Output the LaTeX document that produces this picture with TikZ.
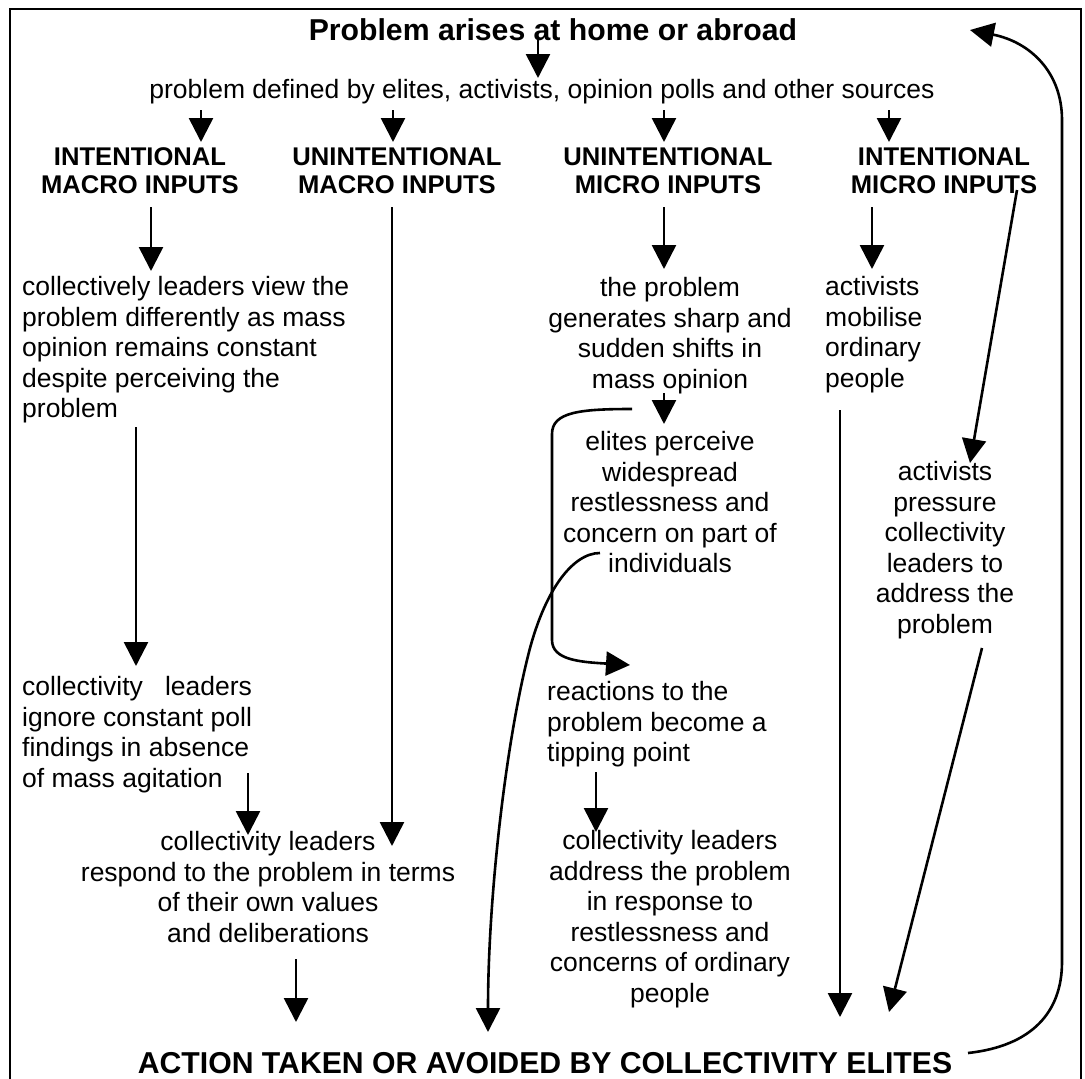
\documentclass[tikz,border=0pt]{standalone}
\usepackage{fontspec}
\setmainfont{Liberation Sans}
\usetikzlibrary{arrows.meta}
\begin{document}
\begin{tikzpicture}[x=1pt,y=-1pt,
  arr/.style={line width=2.6pt,-{Triangle[length=24pt,width=24pt]}},
  body/.style={inner sep=0pt,font=\fontsize{26.5}{30.6}\selectfont},
  head/.style={inner sep=0pt,align=center,anchor=north,font=\bfseries\fontsize{25.6}{28}\selectfont},
  banner/.style={inner sep=0pt,font=\bfseries\fontsize{30.2}{34}\selectfont}]
\useasboundingbox (0,0) rectangle (1085,1079);
% outer frame (its lower edge runs off the page)
\begin{scope}
  \clip (0,0) rectangle (1085,1079);
  \draw[line width=2pt] (10,9) rectangle (1081,1100);
\end{scope}

% top of the chart
\node[banner] (title) at (553,30) {Problem arises at home or abroad};
\node[body] (defined) at (542,92) {problem defined by elites, activists, opinion polls and other sources};

% the four kinds of input
\node[head] (h1) at (140,147) {INTENTIONAL\\MACRO INPUTS};
\node[head] (h2) at (397,147) {UNINTENTIONAL\\MACRO INPUTS};
\node[head] (h3) at (668,147) {UNINTENTIONAL\\MICRO INPUTS};
\node[head] (h4) at (944,147) {INTENTIONAL\\MICRO INPUTS};

% intentional macro column
\node[body,align=left,anchor=north west] (view) at (22,276)
  {collectively leaders view the\\problem differently as mass\\opinion remains constant\\despite perceiving the\\problem};
\node[body,align=left,anchor=north west] (ignore) at (22,676)
  {\makebox[229.8pt][s]{collectivity leaders}\\ignore constant poll\\findings in absence\\of mass agitation};
\node[body,align=center,anchor=north] (respond) at (268,831)
  {collectivity leaders\\respond to the problem in terms\\of their own values\\and deliberations};

% unintentional micro column
\node[body,align=center,anchor=north] (shifts) at (670,277)
  {the problem\\generates sharp and\\sudden shifts in\\mass opinion};
\node[body,align=center,anchor=north] (perceive) at (670,431)
  {elites perceive\\widespread\\restlessness and\\concern on part of\\individuals};
\node[body,align=left,anchor=north west] (tipping) at (547,681)
  {reactions to the\\problem become a\\tipping point};
\node[body,align=center,anchor=north] (address) at (670,830)
  {collectivity leaders\\address the problem\\in response to\\restlessness and\\concerns of ordinary\\people};

% intentional micro column
\node[body,align=left,anchor=north west] (mobilise) at (825,276)
  {activists\\mobilise\\ordinary\\people};
\node[body,align=center,anchor=north] (pressure) at (945,461)
  {activists\\pressure\\collectivity\\leaders to\\address the\\problem};

% outcome
\node[banner] (action) at (545,1063) {ACTION TAKEN OR AVOIDED BY COLLECTIVITY ELITES};

% connector end points
\coordinate (t0) at (538,38);   \coordinate (d0) at (538,78);
\coordinate (t1) at (201,110);  \coordinate (d1) at (201,142);
\coordinate (t2) at (393,110);  \coordinate (d2) at (393,142);
\coordinate (t3) at (664,110);  \coordinate (d3) at (664,142);
\coordinate (t4) at (889,110);  \coordinate (d4) at (889,142);
\coordinate (u1) at (151,207);  \coordinate (v1) at (151,271);
\coordinate (u2) at (392,207);  \coordinate (v2) at (392,846);
\coordinate (u3) at (664,207);  \coordinate (v3) at (664,269);
\coordinate (u4) at (872,207);  \coordinate (v4) at (872,269);
\coordinate (u5) at (1017,190); \coordinate (v5) at (970,463);
\coordinate (p1) at (136,427);  \coordinate (q1) at (136,666);
\coordinate (p2) at (248,773);  \coordinate (q2) at (248,835);
\coordinate (p3) at (664,393);  \coordinate (q3) at (664,424);
\coordinate (p4) at (596,772);  \coordinate (q4) at (596,832);
\coordinate (r1) at (296,959);  \coordinate (s1) at (296,1022);
\coordinate (r2) at (600,553);  \coordinate (s2) at (488,1032);
\coordinate (r3) at (840,410);  \coordinate (s3) at (840,1017);
\coordinate (r4) at (982,648);  \coordinate (s4) at (889,1012);
\coordinate (b0) at (632,409);  \coordinate (b1) at (630,665);
\coordinate (f0) at (968,1053); \coordinate (f1) at (970,30);

% straight arrows
\foreach \a/\b in {t0/d0,t1/d1,t2/d2,t3/d3,t4/d4,u1/v1,u2/v2,u3/v3,u4/v4,u5/v5,
                   p1/q1,p2/q2,p3/q3,p4/q4,r1/s1,r3/s3,r4/s4}
  \draw[arr] (\a) -- (\b);

% bracket from mass opinion shifts round to the tipping point
\draw[arr] (b0) .. controls (580,409) and (552,412) .. (552,434)
  -- (552,640) .. controls (552,660) and (580,662) .. (b1);

% curve from perceived restlessness down to the outcome
\draw[arr] (r2) .. controls (572,553) and (543,592) .. (527,660)
  .. controls (505,750) and (488,900) .. (s2);

% feedback loop back to the start
\draw[arr] (f0) .. controls (1032,1046) and (1062,1012) .. (1062,962)
  -- (1062,120) .. controls (1062,72) and (1030,42) .. (f1);
\end{tikzpicture}
\end{document}
